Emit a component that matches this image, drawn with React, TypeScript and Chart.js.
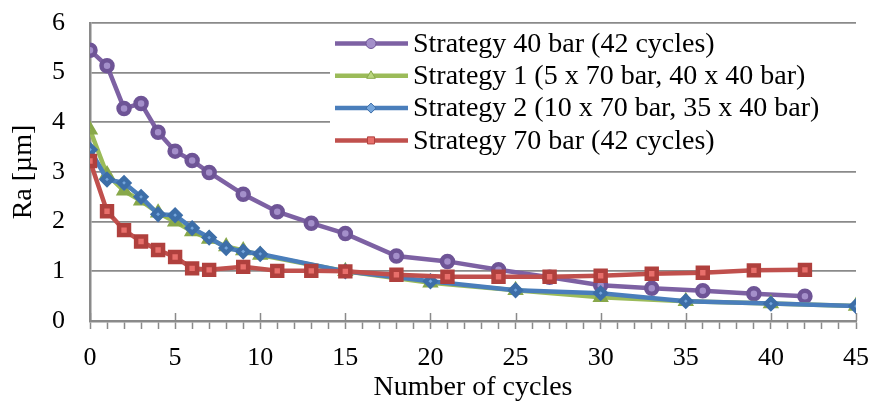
import { useEffect, useRef } from "react";
import { Chart, registerables } from "chart.js";
import { drawPoint } from "chart.js/helpers";

Chart.register(...registerables);

// ---- data ----
const cycles42 = [0, 1, 2, 3, 4, 5, 6, 7, 9, 11, 13, 15, 18, 21, 24, 27, 30, 33, 36, 39, 42];
const ra40bar = [5.45, 5.14, 4.28, 4.38, 3.8, 3.42, 3.23, 2.99, 2.55, 2.2, 1.97, 1.76, 1.31, 1.2, 1.03, 0.88, 0.72, 0.66, 0.61, 0.55, 0.5];
const ra70bar = [3.22, 2.21, 1.83, 1.6, 1.43, 1.29, 1.06, 1.03, 1.09, 1.01, 1.01, 1.0, 0.93, 0.89, 0.89, 0.89, 0.91, 0.95, 0.97, 1.02, 1.03];
const cycles45 = [0, 1, 2, 3, 4, 5, 6, 7, 8, 9, 10, 15, 20, 25, 30, 35, 40, 45];
const raStrategy1 = [3.85, 2.95, 2.62, 2.42, 2.18, 2.0, 1.8, 1.65, 1.5, 1.42, 1.33, 1.0, 0.77, 0.62, 0.48, 0.4, 0.35, 0.3];
const raStrategy2 = [3.45, 2.85, 2.78, 2.5, 2.15, 2.13, 1.87, 1.68, 1.47, 1.4, 1.35, 1.0, 0.8, 0.62, 0.56, 0.4, 0.35, 0.3];

const seriesLabels = [
  "Strategy 40 bar (42 cycles)",
  "Strategy 1 (5 x 70 bar, 40 x 40 bar)",
  "Strategy 2 (10 x 70 bar, 35 x 40 bar)",
  "Strategy 70 bar (42 cycles)",
];
const xAxisTitle = "Number of cycles";
const yAxisTitle = "Ra [µm]";
const xMin = 0;
const xMax = 45;
const xMajorStep = 5;
const yMin = 0;
const yMax = 6;

const FONT = "'Liberation Serif', 'Times New Roman', serif";
const GRID = "#8a8a8a";

const zip = (xs: number[], ys: number[]) => xs.map((x, i) => ({ x, y: ys[i] }));

const legendPlugin = {
  id: "insideLegend",
  beforeDatasetsDraw(chart: any) {
    const { ctx, chartArea, scales } = chart;
    const yS = scales.y;
    const xS = scales.x;
    ctx.save();
    // upward halves of major x ticks
    ctx.strokeStyle = GRID;
    ctx.lineWidth = 1.5;
    for (let v = xMin; v <= xMax; v += xMajorStep) {
      const px = Math.round(xS.getPixelForValue(v)) + 0.5;
      ctx.beginPath();
      ctx.moveTo(px, chartArea.bottom);
      ctx.lineTo(px, chartArea.bottom - 8);
      ctx.stroke();
    }
    // legend box
    const top = yS.getPixelForValue(6) + 1.5;
    const bottom = yS.getPixelForValue(3) - 1.5;
    const left = 330;
    ctx.fillStyle = "#ffffff";
    ctx.fillRect(left, top, chartArea.right + 2 - left, bottom - top);
    ctx.font = `28px ${FONT}`;
    ctx.textBaseline = "middle";
    ctx.textAlign = "left";
    chart.data.datasets.forEach((ds: any, i: number) => {
      const cy = top + 19 + i * 32.3;
      ctx.strokeStyle = ds.borderColor;
      ctx.lineWidth = ds.borderWidth;
      ctx.beginPath();
      ctx.moveTo(335, cy);
      ctx.lineTo(408, cy);
      ctx.stroke();
      ctx.fillStyle = ds.pointBackgroundColor;
      ctx.strokeStyle = ds.pointBorderColor;
      ctx.lineWidth = 1;
      drawPoint(ctx, { pointStyle: ds.pointStyle, radius: Math.min(ds.pointRadius, 5), borderWidth: 1, rotation: 0 }, 371, cy);
      ctx.fillStyle = "#000";
      ctx.fillText(ds.label, 413, cy + 1);
    });
    ctx.restore();
  },
};

export default function App() {
  const ref = useRef<HTMLCanvasElement | null>(null);
  useEffect(() => {
    if (!ref.current) return;
    const chart = new Chart(ref.current, {
      type: "line",
      data: {
        datasets: [
          {
            label: seriesLabels[0],
            data: zip(cycles42, ra40bar),
            borderColor: "#7d61a3",
            backgroundColor: "#7d61a3",
            pointBackgroundColor: "#a48fca",
            pointBorderColor: "#6e5496",
            pointStyle: "circle",
            pointRadius: 5.5,
            borderWidth: 4.5,
            order: 4,
          },
          {
            label: seriesLabels[1],
            data: zip(cycles45, raStrategy1),
            borderColor: "#9bbb59",
            backgroundColor: "#9bbb59",
            pointBackgroundColor: "#b9d67e",
            pointBorderColor: "#88a84a",
            pointStyle: "triangle",
            pointRadius: 5,
            borderWidth: 4.5,
            order: 3,
          },
          {
            label: seriesLabels[2],
            data: zip(cycles45, raStrategy2),
            borderColor: "#4a7ebb",
            backgroundColor: "#4a7ebb",
            pointBackgroundColor: "#76a6dc",
            pointBorderColor: "#3d6ea8",
            pointStyle: "rectRot",
            pointRadius: 5,
            borderWidth: 4.5,
            order: 2,
          },
          {
            label: seriesLabels[3],
            data: zip(cycles42, ra70bar),
            borderColor: "#c0504d",
            backgroundColor: "#c0504d",
            pointBackgroundColor: "#e86f6b",
            pointBorderColor: "#b0403d",
            pointStyle: "rect",
            pointRadius: 7,
            borderWidth: 4.5,
            order: 1,
          },
        ],
      },
      options: {
        responsive: false,
        animation: false,
        events: [],
        layout: { padding: { left: 0, right: 17, top: 23, bottom: 0 } },
        plugins: { legend: { display: false }, tooltip: { enabled: false } },
        elements: { line: { tension: 0 } },
        scales: {
          x: {
            type: "linear",
            min: xMin,
            max: xMax,
            afterFit: (s: any) => {
              s.height = 83;
              s.paddingLeft = 0;
              s.paddingRight = 0;
            },
            grid: {
              drawOnChartArea: false,
              drawTicks: true,
              tickLength: 8,
              tickColor: GRID,
              tickWidth: 1.5,
            },
            border: { display: true, color: GRID, width: 2.5 },
            ticks: {
              stepSize: 1,
              autoSkip: false,
              maxRotation: 0,
              padding: 14,
              color: "#000",
              font: { family: FONT, size: 26 },
              callback: (v: any) => (Number(v) % xMajorStep === 0 ? String(v) : ""),
            },
            title: {
              display: true,
              text: xAxisTitle,
              color: "#000",
              font: { family: FONT, size: 28 },
              padding: { top: 0, bottom: 0 },
            },
          },
          y: {
            type: "linear",
            min: yMin,
            max: yMax,
            afterFit: (s: any) => {
              s.width = 90;
              s.paddingTop = 0;
              s.paddingBottom = 0;
            },
            grid: { color: GRID, lineWidth: 1.8, drawTicks: false },
            border: { display: true, color: GRID, width: 2.5 },
            ticks: {
              stepSize: 1,
              padding: 25,
              color: "#000",
              font: { family: FONT, size: 26 },
            },
            title: {
              display: true,
              text: yAxisTitle,
              color: "#000",
              font: { family: FONT, size: 28 },
              padding: { top: 7, bottom: 0 },
            },
          },
        },
      },
      plugins: [legendPlugin],
    });
    return () => chart.destroy();
  }, []);
  return (
    <div style={{ position: "absolute", left: 0, top: 0, width: 873, height: 404, background: "#fff" }}>
      <canvas ref={ref} width={873} height={404} style={{ display: "block" }} />
    </div>
  );
}
